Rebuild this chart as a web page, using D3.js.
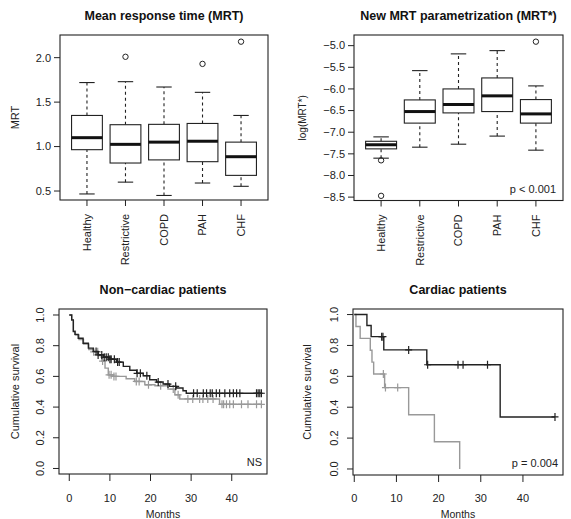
<!DOCTYPE html>
<html>
<head>
<meta charset="utf-8">
<script src="https://cdn.jsdelivr.net/npm/d3@7"></script>
<style>
  body { margin: 0; background: #fff; }
  svg { display: block; font-family: 'Liberation Sans', Arial, sans-serif; }
</style>
</head>
<body>
<svg id="chart" width="571" height="519"></svg>
<script>
// groups on the box plots
const groups = ['Healthy', 'Restrictive', 'COPD', 'PAH', 'CHF'];

// MRT box stats (whisker low, Q1, median, Q3, whisker high, outliers)
const mrtLow = [0.467, 0.60, 0.45, 0.59, 0.553];
const mrtQ1 = [0.965, 0.815, 0.85, 0.83, 0.676];
const mrtMed = [1.10, 1.025, 1.05, 1.06, 0.886];
const mrtQ3 = [1.35, 1.246, 1.25, 1.26, 1.05];
const mrtHigh = [1.72, 1.73, 1.67, 1.61, 1.35];
const mrtOut = [[], [2.01], [], [1.93], [2.18]];
const mrtTicks = [0.5, 1.0, 1.5, 2.0];

// log(MRT*) box stats
const logLow = [-7.60, -7.346, -7.277, -7.09, -7.415];
const logQ1 = [-7.385, -6.79, -6.554, -6.523, -6.79];
const logMed = [-7.29, -6.523, -6.36, -6.16, -6.577];
const logQ3 = [-7.21, -6.254, -6.0, -5.746, -6.246];
const logHigh = [-7.108, -5.577, -5.19, -5.115, -5.93];
const logOut = [[-7.65, -8.47], [], [], [], [-4.908]];
const logTicks = [-8.5, -8.0, -7.5, -7.0, -6.5, -6.0, -5.5, -5.0];

// Kaplan-Meier steps, non-cardiac patients
const ncBlackTime = [0, 0.6, 1.0, 1.4, 2.2, 3.4, 4.7, 5.9, 7.1, 8.4, 10.0, 11.6, 13.3,
  14.9, 16.6, 18.2, 19.8, 21.5, 23.1, 24.7, 26.4, 28.0, 28.8, 47.3];
const ncBlackSurv = [1.0, 0.968, 0.892, 0.874, 0.848, 0.816, 0.784, 0.762, 0.74, 0.725,
  0.712, 0.693, 0.665, 0.64, 0.62, 0.604, 0.578, 0.563, 0.55, 0.535, 0.524, 0.506, 0.49, 0.49];
const ncBlackCensor = [6.6, 7.1, 8.0, 8.6, 9.1, 9.6, 10.0, 10.3, 11.1, 11.9, 12.3, 16.7,
  17.5, 19.1, 21.9, 24.3, 26.2, 30.6, 31.5, 33.0, 33.8, 34.7, 35.2, 36.2, 37.0, 38.3,
  39.5, 40.4, 41.2, 42.0, 46.1, 46.5, 46.9, 47.3];
const ncGreyTime = [0, 0.6, 1.0, 1.5, 2.4, 3.5, 4.8, 6.0, 7.2, 8.0, 8.8, 9.6, 10.8,
  14.0, 16.1, 18.6, 21.1, 24.3, 26.0, 27.2, 37.0, 47.3];
const ncGreySurv = [1.0, 0.965, 0.895, 0.87, 0.84, 0.81, 0.775, 0.76, 0.735, 0.70, 0.654,
  0.61, 0.60, 0.585, 0.567, 0.545, 0.539, 0.517, 0.48, 0.453, 0.418, 0.418];
const ncGreyCensor = [6.0, 7.0, 8.2, 9.8, 10.3, 11.0, 11.5, 16.5, 17.2, 19.5, 22.5, 25.6,
  26.8, 29.2, 30.4, 32.1, 32.9, 34.1, 35.4, 37.6, 38.0, 38.7, 39.5, 40.4, 42.4, 44.0,
  46.1, 47.3];

// Kaplan-Meier steps, cardiac patients
const cBlackTime = [0, 3.0, 4.0, 7.0, 17.2, 34.6, 47.6];
const cBlackSurv = [1.0, 0.929, 0.857, 0.771, 0.675, 0.337, 0.337];
const cBlackCensor = [6.5, 6.8, 12.9, 17.4, 24.6, 25.8, 31.6, 47.6];
const cGreyTime = [0, 0.4, 1.4, 3.8, 4.2, 4.6, 7.2, 12.9, 19.0, 25.0];
const cGreySurv = [1.0, 0.923, 0.846, 0.769, 0.692, 0.615, 0.527, 0.351, 0.176, 0];
const cGreyCensor = [6.9, 7.4, 10.3];

const survTicks = [0, 0.2, 0.4, 0.6, 0.8, 1.0];
const monthTicks = [0, 10, 20, 30, 40];

const svg = d3.select('#chart');
const ink = '#222';
const tickSize = 11;
const fmt1 = d => d3.format('.1f')(d).replace('-', '\u2212');

function frame(g, x0, x1, y0, y1) {
  g.append('rect')
    .attr('x', x0).attr('y', y0)
    .attr('width', x1 - x0).attr('height', y1 - y0)
    .attr('fill', 'none').attr('stroke', ink).attr('stroke-width', 1.1);
}

function boxPanel(opt) {
  const g = svg.append('g');
  const x = d3.scaleLinear().domain([0.3, 5.7]).range([opt.left, opt.right]);
  const y = d3.scaleLinear().domain(opt.domain).range([opt.bottom, opt.top]);
  const bw = x(0.8) - x(0);

  groups.forEach((name, i) => {
    const cx = x(i + 1);
    const s = opt.stats;
    // whiskers
    [[s.low[i], s.q1[i]], [s.q3[i], s.high[i]]].forEach(([a, b]) => {
      g.append('line')
        .attr('x1', cx).attr('x2', cx)
        .attr('y1', y(a)).attr('y2', y(b))
        .attr('stroke', ink).attr('stroke-width', 1.1).attr('stroke-dasharray', '3,3');
    });
    [s.low[i], s.high[i]].forEach((v) => {
      g.append('line')
        .attr('x1', cx - bw / 4).attr('x2', cx + bw / 4)
        .attr('y1', y(v)).attr('y2', y(v))
        .attr('stroke', ink).attr('stroke-width', 1.1);
    });
    g.append('rect')
      .attr('x', cx - bw / 2).attr('width', bw)
      .attr('y', y(s.q3[i])).attr('height', y(s.q1[i]) - y(s.q3[i]))
      .attr('fill', '#fff').attr('stroke', ink).attr('stroke-width', 1.1);
    g.append('line')
      .attr('x1', cx - bw / 2).attr('x2', cx + bw / 2)
      .attr('y1', y(s.med[i])).attr('y2', y(s.med[i]))
      .attr('stroke', '#111').attr('stroke-width', 3);
    s.out[i].forEach((v) => {
      g.append('circle')
        .attr('cx', cx).attr('cy', y(v)).attr('r', 2.7)
        .attr('fill', 'none').attr('stroke', ink);
    });
  });

  frame(g, opt.left, opt.right, opt.top, opt.bottom);

  // y axis, horizontal labels
  opt.ticks.forEach((t) => {
    g.append('line')
      .attr('x1', opt.left - 6).attr('x2', opt.left)
      .attr('y1', y(t)).attr('y2', y(t))
      .attr('stroke', ink);
    g.append('text')
      .attr('x', opt.left - 9).attr('y', y(t)).attr('dy', '0.35em')
      .attr('text-anchor', 'end').attr('font-size', tickSize).attr('fill', ink)
      .text(fmt1(t));
  });

  // x axis, vertical labels
  groups.forEach((name, i) => {
    const cx = x(i + 1);
    g.append('line')
      .attr('x1', cx).attr('x2', cx)
      .attr('y1', opt.bottom).attr('y2', opt.bottom + 6)
      .attr('stroke', ink);
    g.append('text')
      .attr('transform', `translate(${cx},${opt.bottom + 14}) rotate(-90)`)
      .attr('dy', '0.35em').attr('text-anchor', 'end')
      .attr('font-size', tickSize).attr('fill', ink)
      .text(name);
  });

  g.append('text')
    .attr('transform', `translate(${opt.ylabX},${(opt.top + opt.bottom) / 2}) rotate(-90)`)
    .attr('text-anchor', 'middle').attr('font-size', opt.ylabSize).attr('fill', ink)
    .text(opt.ylab);

  g.append('text')
    .attr('x', (opt.left + opt.right) / 2).attr('y', 20)
    .attr('text-anchor', 'middle').attr('font-size', 12.5).attr('font-weight', 'bold')
    .attr('fill', '#111')
    .text(opt.title);

  if (opt.note) {
    g.append('text')
      .attr('x', opt.right - 7).attr('y', opt.bottom - 8)
      .attr('text-anchor', 'end').attr('font-size', tickSize).attr('fill', ink)
      .text(opt.note);
  }
}

function survPanel(opt) {
  const g = svg.append('g');
  const x = d3.scaleLinear().domain(opt.xDomain).range([opt.left, opt.right]);
  const y = d3.scaleLinear().domain(opt.yDomain).range([opt.bottom, opt.top]);
  const line = d3.line()
    .curve(d3.curveStepAfter)
    .x(d => x(d[0]))
    .y(d => y(d[1]));

  opt.curves.forEach((c) => {
    const pts = c.time.map((t, i) => [t, c.surv[i]]);
    g.append('path')
      .datum(pts)
      .attr('d', line)
      .attr('fill', 'none').attr('stroke', c.color).attr('stroke-width', 1.4);
    const survAt = (t) => {
      let v = c.surv[0];
      c.time.forEach((tt, i) => { if (tt <= t) v = c.surv[i]; });
      return v;
    };
    c.censor.forEach((t) => {
      const cx = x(t);
      const cy = y(survAt(t));
      g.append('path')
        .attr('d', `M${cx - 3.5},${cy}H${cx + 3.5}M${cx},${cy - 4}V${cy + 4}`)
        .attr('stroke', c.color).attr('stroke-width', 1.2).attr('fill', 'none');
    });
  });

  frame(g, opt.left, opt.right, opt.top, opt.bottom);

  survTicks.forEach((t) => {
    g.append('line')
      .attr('x1', opt.left - 6).attr('x2', opt.left)
      .attr('y1', y(t)).attr('y2', y(t))
      .attr('stroke', ink);
    g.append('text')
      .attr('transform', `translate(${opt.left - 15},${y(t)}) rotate(-90)`)
      .attr('text-anchor', 'middle').attr('font-size', tickSize).attr('fill', ink)
      .text(d3.format('.1f')(t));
  });

  monthTicks.forEach((t) => {
    g.append('line')
      .attr('x1', x(t)).attr('x2', x(t))
      .attr('y1', opt.bottom).attr('y2', opt.bottom + 7)
      .attr('stroke', ink);
    g.append('text')
      .attr('x', x(t)).attr('y', 502)
      .attr('text-anchor', 'middle').attr('font-size', tickSize).attr('fill', ink)
      .text(t);
  });

  g.append('text')
    .attr('x', (opt.left + opt.right) / 2).attr('y', 518)
    .attr('text-anchor', 'middle').attr('font-size', 10.5).attr('fill', ink)
    .text('Months');

  g.append('text')
    .attr('transform', `translate(${opt.ylabX},${(opt.top + opt.bottom) / 2}) rotate(-90)`)
    .attr('text-anchor', 'middle').attr('font-size', 11).attr('fill', ink)
    .text('Cumulative survival');

  g.append('text')
    .attr('x', (opt.left + opt.right) / 2).attr('y', 294)
    .attr('text-anchor', 'middle').attr('font-size', 12.5).attr('font-weight', 'bold')
    .attr('fill', '#111')
    .text(opt.title);

  g.append('text')
    .attr('x', opt.right - 5).attr('y', opt.bottom - 8)
    .attr('text-anchor', 'end').attr('font-size', tickSize).attr('fill', ink)
    .text(opt.note);
}

boxPanel({
  left: 60, right: 268, top: 35, bottom: 200,
  domain: [0.399, 2.255],
  stats: { low: mrtLow, q1: mrtQ1, med: mrtMed, q3: mrtQ3, high: mrtHigh, out: mrtOut },
  ticks: mrtTicks,
  title: 'Mean response time (MRT)',
  ylab: 'MRT', ylabX: 19, ylabSize: 11,
});

boxPanel({
  left: 354, right: 563, top: 35, bottom: 200.5,
  domain: [-8.578, -4.754],
  stats: { low: logLow, q1: logQ1, med: logMed, q3: logQ3, high: logHigh, out: logOut },
  ticks: logTicks,
  title: 'New MRT parametrization (MRT*)',
  ylab: 'log(MRT*)', ylabX: 306, ylabSize: 10,
  note: 'p < 0.001',
});

survPanel({
  left: 59, right: 267, top: 309, bottom: 474,
  xDomain: [-2.53, 48.68], yDomain: [-0.036, 1.039],
  curves: [
    { time: ncGreyTime, surv: ncGreySurv, censor: ncGreyCensor, color: '#999' },
    { time: ncBlackTime, surv: ncBlackSurv, censor: ncBlackCensor, color: '#222' },
  ],
  title: 'Non\u2212cardiac patients',
  ylabX: 19,
  note: 'NS',
});

survPanel({
  left: 353, right: 563, top: 309, bottom: 475,
  xDomain: [-0.3, 49.5], yDomain: [-0.039, 1.036],
  curves: [
    { time: cGreyTime, surv: cGreySurv, censor: cGreyCensor, color: '#999' },
    { time: cBlackTime, surv: cBlackSurv, censor: cBlackCensor, color: '#222' },
  ],
  title: 'Cardiac patients',
  ylabX: 311,
  note: 'p = 0.004',
});
</script>
</body>
</html>
